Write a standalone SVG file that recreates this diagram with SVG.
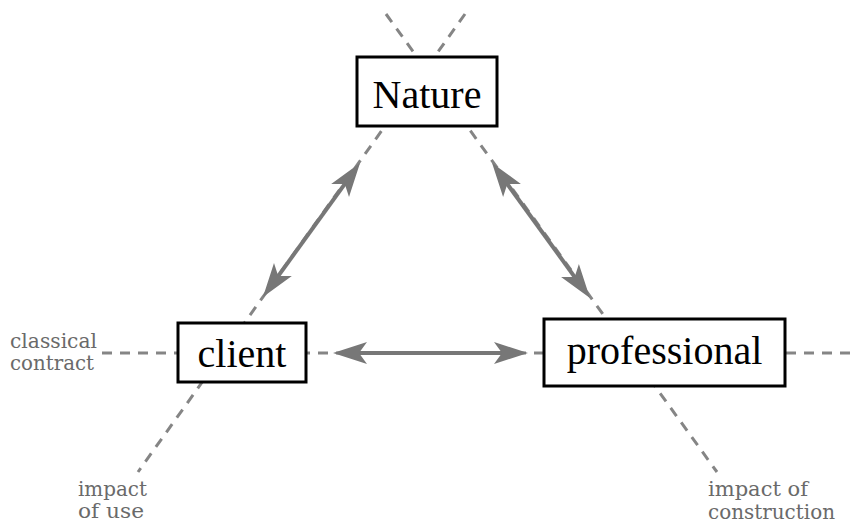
<svg xmlns="http://www.w3.org/2000/svg" width="855" height="523" viewBox="0 0 855 523">
<style>
.dash{stroke:#858585;stroke-width:3;stroke-dasharray:10 8;fill:none}
.box{fill:#fff;stroke:#000;stroke-width:3}
.lbl{font-family:"Liberation Serif","Times New Roman",serif;font-size:40px;fill:#000;text-anchor:middle}
.note{font-family:"DejaVu Serif",serif;font-size:21px;fill:#6a6a6a}
.arr{stroke:#777;stroke-width:4;fill:none;marker-start:url(#ah);marker-end:url(#ah)}
</style>
<defs>
<marker id="ah" markerUnits="userSpaceOnUse" markerWidth="40" markerHeight="28" viewBox="0 -14 40 28" refX="22" refY="0" orient="auto-start-reverse">
<path d="M0,-11 L34,0 L0,11 L8,0 Z" fill="#777"/>
</marker>
</defs>
<g id="connectors">
<line class="dash" x1="465" y1="14" x2="138" y2="472"/>
<line class="dash" x1="386" y1="14" x2="717" y2="472"/>
<line class="dash" x1="102" y1="353" x2="855" y2="353"/>
<line class="arr" x1="270" y1="287.3" x2="353" y2="172.7"/>
<line class="arr" x1="499.1" y1="172.7" x2="582.9" y2="288.3"/>
<line class="arr" x1="345" y1="353" x2="516" y2="353"/>
</g>
<g id="nature">
<rect class="box" x="357" y="57" width="140" height="69"/>
<text class="lbl" x="427" y="108">Nature</text>
</g>
<g id="client">
<rect class="box" x="178" y="323" width="128" height="59"/>
<text class="lbl" x="242" y="367">client</text>
</g>
<g id="professional">
<rect class="box" x="544" y="319" width="241" height="67"/>
<text class="lbl" x="664.5" y="364">professional</text>
</g>
<g id="labels">
<text class="note" x="10" y="348" textLength="87" lengthAdjust="spacingAndGlyphs">classical</text>
<text class="note" x="10" y="370" textLength="84" lengthAdjust="spacingAndGlyphs">contract</text>
<text class="note" x="78" y="496" textLength="69" lengthAdjust="spacingAndGlyphs">impact</text>
<text class="note" x="78" y="518" textLength="66" lengthAdjust="spacingAndGlyphs">of use</text>
<text class="note" x="708" y="496" textLength="100" lengthAdjust="spacingAndGlyphs">impact of</text>
<text class="note" x="708" y="519" textLength="127" lengthAdjust="spacingAndGlyphs">construction</text>
</g>
</svg>
